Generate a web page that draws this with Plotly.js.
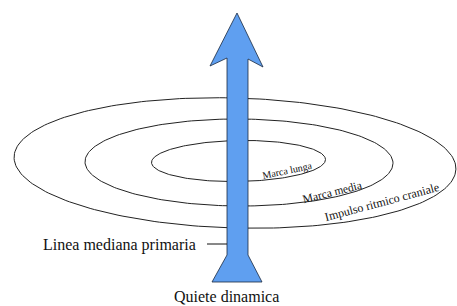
<!DOCTYPE html>
<html><head><meta charset="utf-8">
<script src="https://cdn.plot.ly/plotly-3.0.1.min.js"></script>
<style>html,body{margin:0;padding:0;background:#fff}#chart{width:457px;height:306px}</style>
</head><body><div id="chart"></div>
<script>
// Ellipse rings (screen coordinates in px, y down)
const ringNames = ["Impulso ritmico craniale", "Marca media", "Marca lunga"];
const ringCx = [235, 239, 238.5];
const ringCy = [163, 162.5, 161];
const ringA = [221, 154, 87];
const ringB = [65, 43.5, 20.5];
const ringTiltDeg = [1.6, 0.3, -1.0];

// Arrow outline
const arrowX = [237, 263, 248, 248, 262, 212, 227, 227, 210, 237];
const arrowY = [13, 67, 59, 255, 282, 282, 255, 58, 66, 13];

// Labels
const labelTexts = ["Marca lunga", "Marca media", "Impulso ritmico craniale"];
const labelX = [287, 332, 382];
const labelY = [170.5, 192, 202];
const labelAngle = [-12, -14, -15];
const labelSize = [10, 11.5, 12];

const leaderX = [207, 227];
const leaderY = [244, 244];

const traces = [];
for (let i = 0; i < ringNames.length; i++) {
  const xs = [], ys = [];
  const phi = ringTiltDeg[i] * Math.PI / 180;
  for (let k = 0; k <= 240; k++) {
    const t = 2 * Math.PI * k / 240;
    const ex = ringA[i] * Math.cos(t), ey = ringB[i] * Math.sin(t);
    xs.push(ringCx[i] + ex * Math.cos(phi) - ey * Math.sin(phi));
    ys.push(ringCy[i] + ex * Math.sin(phi) + ey * Math.cos(phi));
  }
  traces.push({x: xs, y: ys, mode: 'lines', line: {color: '#222', width: 1}, hoverinfo: 'skip', name: ringNames[i]});
}
traces.push({x: arrowX, y: arrowY, mode: 'lines', fill: 'toself', fillcolor: '#5f9ff0', line: {color: '#1a2a40', width: 0.8}, hoverinfo: 'skip'});
traces.push({x: leaderX, y: leaderY, mode: 'lines', line: {color: '#111', width: 1}, hoverinfo: 'skip'});

const annotations = labelTexts.map((t, i) => ({
  x: labelX[i], y: labelY[i], xref: 'x', yref: 'y', text: t, showarrow: false,
  textangle: labelAngle[i], font: {family: 'Liberation Serif', size: labelSize[i], color: '#111'}
}));
annotations.push({x: 198, y: 245, xref: 'x', yref: 'y', text: 'Linea mediana primaria', showarrow: false,
  xanchor: 'right', font: {family: 'Liberation Serif', size: 16, color: '#111'}});
annotations.push({x: 226, y: 296, xref: 'x', yref: 'y', text: 'Quiete dinamica', showarrow: false,
  xanchor: 'center', font: {family: 'Liberation Serif', size: 16, color: '#111'}});

const layout = {
  width: 457, height: 306, margin: {l: 0, r: 0, t: 0, b: 0},
  paper_bgcolor: '#fff', plot_bgcolor: '#fff', showlegend: false,
  xaxis: {range: [0, 457], visible: false, fixedrange: true},
  yaxis: {range: [306, 0], visible: false, fixedrange: true},
  annotations: annotations
};
Plotly.newPlot('chart', traces, layout, {displayModeBar: false, staticPlot: true});
</script></body></html>
